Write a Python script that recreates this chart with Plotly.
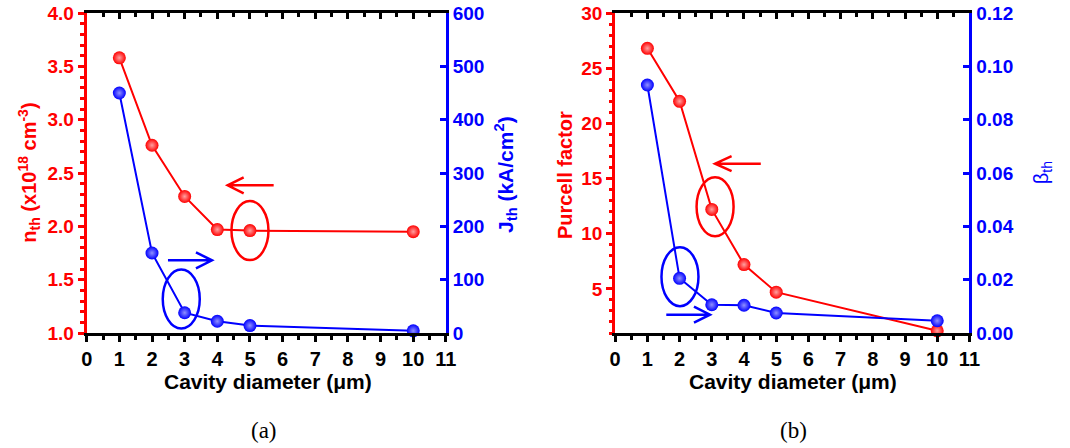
import plotly.graph_objects as go

# ---- data ----
diameter = [1, 2, 3, 4, 5, 10]            # cavity diameter (um)
n_th = [3.58, 2.76, 2.28, 1.97, 1.96, 1.95]   # x10^18 cm^-3
j_th = [450, 150, 38, 22, 14, 4]              # kA/cm^2
purcell = [26.8, 22.0, 12.2, 7.2, 4.7, 1.2]
beta_th = [0.093, 0.0205, 0.0106, 0.0104, 0.0075, 0.0046]

x_ticks = list(range(0, 12))

RED = "#ff0000"
BLUE = "#0000ff"
FONT = "Liberation Sans"
W, H = 1070, 448

fig = go.Figure()


def series(x, y, color, hilite, xa, ya):
    fig.add_trace(go.Scatter(
        x=x, y=y, xaxis=xa, yaxis=ya, mode="lines+markers",
        line=dict(color=color, width=2),
        marker=dict(size=13, color=color, line=dict(width=0),
                    gradient=dict(type="radial", color=hilite)),
        cliponaxis=False, showlegend=False))


series(diameter, n_th, RED, "#ffa0a0", "x", "y")
series(diameter, j_th, BLUE, "#9090ff", "x", "y2")
series(diameter, purcell, RED, "#ffa0a0", "x2", "y3")
series(diameter, beta_th, BLUE, "#9090ff", "x2", "y4")

dom_a = [82 / W, 447 / W]
dom_b = [619 / W, 979 / W]

tickfont_x = dict(family=FONT, size=20, color="black", weight="bold")


def xbottom(domain, anchor):
    return dict(domain=domain, anchor=anchor, range=[0, 11], tickvals=x_ticks,
                ticks="outside", ticklen=6, tickwidth=2.5, tickcolor="black",
                minor=dict(dtick=0.5, ticklen=4, tickwidth=2.5, tickcolor="black", ticks="outside"),
                showline=True, linecolor="black", linewidth=3,
                showgrid=False, zeroline=False, tickfont=tickfont_x)


def xtop(over, anchor):
    return dict(overlaying=over, matches=over, anchor=anchor, side="top", range=[0, 11],
                tickvals=x_ticks, ticks="inside", ticklen=6, tickwidth=2.5, tickcolor="black",
                minor=dict(dtick=0.5, ticklen=4, tickwidth=2.5, tickcolor="black", ticks="inside"),
                showline=True, linecolor="black", linewidth=3,
                showticklabels=False, showgrid=False, zeroline=False)


def yleft(rng, dtick, tick0, minor, anchor, fmt=None):
    d = dict(anchor=anchor, range=rng, dtick=dtick, tick0=tick0, domain=[0, 1],
             ticks="outside", ticklen=6, tickwidth=2.5, tickcolor=RED,
             minor=dict(dtick=minor, tick0=tick0, ticklen=3.5, tickwidth=2.5,
                        tickcolor=RED, ticks="outside"),
             showline=True, linecolor=RED, linewidth=3,
             showgrid=False, zeroline=False,
             tickfont=dict(family=FONT, size=19, color=RED, weight="bold"))
    if fmt:
        d["tickformat"] = fmt
    return d


def yright(rng, dtick, anchor, over, fmt=None):
    d = dict(anchor=anchor, overlaying=over, side="right", range=rng, dtick=dtick, tick0=0,
             ticks="inside", ticklen=6, tickwidth=2.5, tickcolor=BLUE,
             showline=True, linecolor=BLUE, linewidth=3,
             showgrid=False, zeroline=False,
             tickfont=dict(family=FONT, size=19, color=BLUE, weight="bold"))
    if fmt:
        d["tickformat"] = fmt
    return d


fig.update_layout(
    width=W, height=H,
    margin=dict(l=0, r=0, t=13, b=115),
    paper_bgcolor="white", plot_bgcolor="white",
    xaxis=xbottom(dom_a, "y"),
    xaxis2=xbottom(dom_b, "y3"),
    xaxis3=xtop("x", "y"),
    xaxis4=xtop("x2", "y3"),
    yaxis=yleft([1, 4], 0.5, 1, 0.1, "x", ".1f"),
    yaxis2=yright([0, 600], 100, "x", "y"),
    yaxis3=yleft([1, 30], 5, 0, 1, "x2"),
    yaxis4=yright([0, 0.12], 0.02, "x2", "y3", ".2f"),
)

# keep the top mirror axes visible (they need a trace-free axis to render)
for xa, ya in (("x3", "y"), ("x4", "y3")):
    fig.add_trace(go.Scatter(x=[None], y=[None], xaxis=xa, yaxis=ya,
                             showlegend=False, hoverinfo="skip"))

# ---- axis titles ----
def title(text, x_px, y_px, color, angle=0, size=18, bold=True, family=FONT):
    fig.add_annotation(text=text, xref="paper", yref="paper",
                       x=x_px / W, y=(333 - y_px) / 320, showarrow=False,
                       textangle=angle, xanchor="center", yanchor="middle",
                       font=dict(family=family, size=size, color=color,
                                 weight="bold" if bold else "normal"))


title("n<sub>th</sub> (x10<sup>18</sup> cm<sup>-3</sup>)", 23, 173, RED, -90, size=20)
title("J<sub>th</sub> (kA/cm<sup>2</sup>)", 507, 174, BLUE, -90, size=21)
title("Purcell factor", 568, 175, RED, -90, size=20)
title("β<sub>th</sub>", 1053, 173, BLUE, -90, size=20, bold=False)
title("Cavity diameter (μm)", 266, 381, "black", size=21)
title("Cavity diameter (μm)", 800, 381, "black", size=21)
title("(a)", 262, 430, "black", size=23, bold=False, family="Liberation Serif")
title("(b)", 800, 430, "black", size=23, bold=False, family="Liberation Serif")

# ---- guide ellipses and arrows, anchored on the highlighted points ----
def ellipse(xa, ya, x, y, cx, cy, color):
    fig.add_shape(type="circle", xref=xa, yref=ya, xsizemode="pixel", ysizemode="pixel",
                  xanchor=x, yanchor=y, x0=cx - 18.5, x1=cx + 18.5, y0=cy - 29.5, y1=cy + 29.5,
                  line=dict(color=color, width=2.5), layer="above")


def arrow(xa, ya, x, y, tail, head, wing, color):
    (tx, ty), (hx, hy) = tail, head
    path = (f"M {tx},{ty} L {hx},{hy} "
            f"M {hx + wing[0]},{hy + wing[1]} L {hx},{hy} L {hx + wing[0]},{hy - wing[1]}")
    fig.add_shape(type="path", xref=xa, yref=ya, xsizemode="pixel", ysizemode="pixel",
                  xanchor=x, yanchor=y, path=path,
                  line=dict(color=color, width=2.5), layer="above")


# panel (a)
ellipse("x", "y", diameter[4], n_th[4], 0, 0, RED)
arrow("x", "y", diameter[4], n_th[4], (23.7, 45.3), (-22.3, 45.3), (16, 8), RED)
ellipse("x", "y2", diameter[2], j_th[2], -3.4, 13.7, BLUE)
arrow("x", "y2", diameter[2], j_th[2], (-16.7, 52.4), (27.3, 52.4), (-16, 8), BLUE)

# panel (b)
ellipse("x2", "y3", diameter[2], purcell[2], 3.3, 2.7, RED)
arrow("x2", "y3", diameter[2], purcell[2], (49, 45.7), (3.3, 45.7), (16.5, 7.5), RED)
ellipse("x2", "y4", diameter[1], beta_th[1], 0.4, 1.7, BLUE)
arrow("x2", "y4", diameter[1], beta_th[1], (-13.3, -36.3), (30.4, -36.3), (-16, 8), BLUE)

fig.write_html("out.html")
